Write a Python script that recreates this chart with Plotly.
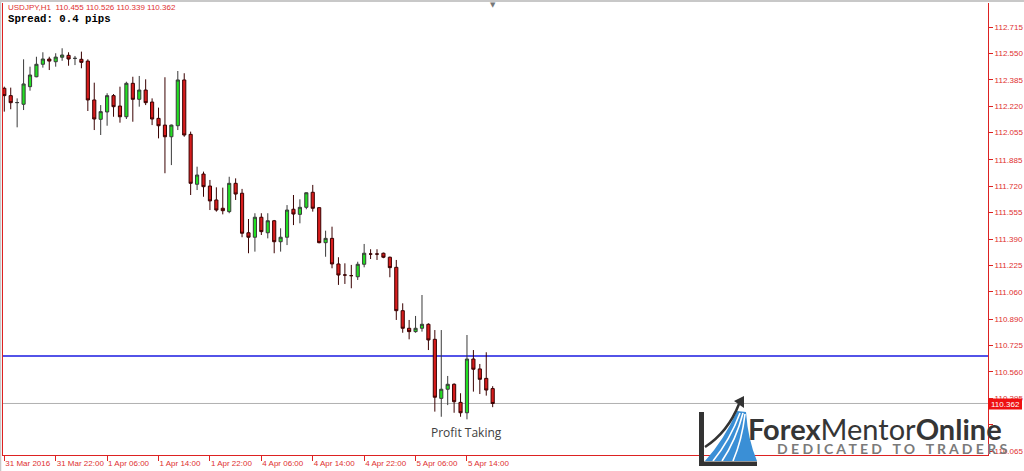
import plotly.graph_objects as go

# ---------------- data (USDJPY H1) ----------------
opens = [112.332, 112.286, 112.242, 112.232, 112.342, 112.404, 112.482, 112.515, 112.498, 112.526,
         112.538, 112.519, 112.513, 112.502, 112.259, 112.138, 112.184, 112.286, 112.221, 112.154,
         112.363, 112.263, 112.321, 112.246, 112.144, 112.102, 112.029, 112.098, 112.384, 112.044,
         111.732, 111.796, 111.721, 111.634, 111.582, 111.561, 111.738, 111.676, 111.429, 111.401,
         111.526, 111.429, 111.504, 111.373, 111.401, 111.576, 111.544, 111.588, 111.682, 111.586,
         111.367, 111.394, 111.234, 111.165, 111.161, 111.154, 111.232, 111.296, 111.296, 111.301,
         111.276, 111.213, 110.942, 110.832, 110.811, 110.832, 110.857, 110.763, 110.394, 110.451,
         110.482, 110.369, 110.304, 110.640, 110.578, 110.519, 110.455]
highs = [112.342, 112.336, 112.269, 112.513, 112.467, 112.529, 112.557, 112.529, 112.551, 112.582,
         112.557, 112.534, 112.561, 112.513, 112.367, 112.227, 112.301, 112.296, 112.342, 112.373,
         112.404, 112.409, 112.388, 112.269, 112.211, 112.401, 112.105, 112.440, 112.426, 112.061,
         111.842, 111.811, 111.759, 111.713, 111.711, 111.779, 111.769, 111.703, 111.515, 111.551,
         111.551, 111.551, 111.509, 111.457, 111.602, 111.665, 111.638, 111.681, 111.728, 111.588,
         111.442, 111.467, 111.276, 111.238, 111.228, 111.248, 111.359, 111.326, 111.326, 111.305,
         111.280, 111.259, 110.988, 110.884, 110.909, 111.040, 110.863, 110.821, 110.821, 110.534,
         110.488, 110.426, 110.790, 110.696, 110.609, 110.682, 110.470]
lows = [112.186, 112.201, 112.088, 112.196, 112.317, 112.401, 112.461, 112.446, 112.467, 112.504,
        112.473, 112.477, 112.457, 112.190, 112.071, 112.040, 112.098, 112.154, 112.117, 112.140,
        112.123, 112.217, 112.227, 112.102, 112.019, 111.801, 111.852, 112.071, 112.029, 111.665,
        111.696, 111.654, 111.571, 111.561, 111.544, 111.551, 111.634, 111.401, 111.301, 111.311,
        111.415, 111.394, 111.301, 111.311, 111.352, 111.477, 111.488, 111.576, 111.561, 111.363,
        111.279, 111.207, 111.103, 111.109, 111.082, 111.134, 111.213, 111.265, 111.259, 111.270,
        111.151, 110.884, 110.804, 110.763, 110.804, 110.811, 110.696, 110.311, 110.279, 110.352,
        110.304, 110.279, 110.263, 110.436, 110.421, 110.411, 110.339]
closes = [112.286, 112.242, 112.243, 112.359, 112.415, 112.482, 112.515, 112.502, 112.527, 112.540,
          112.515, 112.519, 112.494, 112.259, 112.140, 112.186, 112.286, 112.217, 112.154, 112.363,
          112.263, 112.321, 112.242, 112.140, 112.098, 112.029, 112.102, 112.384, 112.040, 111.738,
          111.790, 111.717, 111.628, 111.571, 111.567, 111.738, 111.671, 111.426, 111.401, 111.526,
          111.436, 111.504, 111.373, 111.401, 111.571, 111.546, 111.588, 111.679, 111.582, 111.367,
          111.394, 111.234, 111.165, 111.165, 111.161, 111.232, 111.301, 111.296, 111.296, 111.276,
          111.211, 110.942, 110.832, 110.811, 110.832, 110.857, 110.759, 110.401, 110.451, 110.482,
          110.373, 110.304, 110.640, 110.576, 110.513, 110.446, 110.362]

x_tick_idx = [0, 8, 16, 24, 32, 40, 48, 56, 64, 72]
x_tick_labels = ["31 Mar 2016", "31 Mar 22:00", "1 Apr 06:00", "1 Apr 14:00", "1 Apr 22:00",
                 "4 Apr 06:00", "4 Apr 14:00", "4 Apr 22:00", "5 Apr 06:00", "5 Apr 14:00"]
y_tick_vals = [112.715, 112.550, 112.385, 112.220, 112.055, 111.885, 111.720, 111.555, 111.390,
               111.225, 111.060, 110.890, 110.725, 110.560, 110.395, 110.230, 110.065]
y_tick_labels = ["112.715", "112.550", "112.385", "112.220", "112.055", "111.885", "111.720",
                 "111.555", "111.390", "111.225", "111.060", "110.890", "110.725", "110.560",
                 "110.395", "", "110.065"]
blue_level = 110.659
bid_price = 110.362
header_text = "USDJPY,H1  110.455 110.526 110.339 110.362"
spread_text = "Spread: 0.4 pips"
note_text = "Profit Taking"

W, H = 1024, 471
RED = "#dd2222"


def px(x):
    return x / W


def py(y):
    return 1 - y / H


def P(x, y):
    return f"{px(x):.5f},{py(y):.5f}"


xs = list(range(len(opens)))

fig = go.Figure()
fig.add_trace(go.Candlestick(
    x=xs, open=opens, high=highs, low=lows, close=closes,
    increasing=dict(fillcolor="#22e022", line=dict(color="#3a3a3a", width=1)),
    decreasing=dict(fillcolor="#d81c1c", line=dict(color="#3a0000", width=1)),
    whiskerwidth=0, showlegend=False, hoverinfo="skip",
))

shapes = []
shapes.append(dict(type="line", xref="x domain", yref="y", x0=0, x1=1, y0=blue_level, y1=blue_level,
                   line=dict(color="#1a1ae0", width=1.6), layer="below"))
shapes.append(dict(type="line", xref="x domain", yref="y", x0=0, x1=1, y0=bid_price, y1=bid_price,
                   line=dict(color="#b0b0b0", width=1), layer="below"))
shapes.append(dict(type="line", xref="paper", yref="paper", x0=0, x1=1, y0=py(1), y1=py(1),
                   line=dict(color="#c8c8c8", width=2)))
shapes.append(dict(type="line", xref="paper", yref="paper", x0=px(0.5), x1=px(0.5), y0=0, y1=1,
                   line=dict(color="#c8c8c8", width=1.5)))
# price box
shapes.append(dict(type="rect", xref="paper", yref="paper", x0=px(988), x1=px(1022),
                   y0=py(409.5), y1=py(398.5), fillcolor="#ee1111", line=dict(width=0)))
# logo icon
shapes.append(dict(type="path", xref="paper", yref="paper",
                   path=f"M{P(705,461)} Q{P(724,440)} {P(737,411)} L{P(746,412)} Q{P(748,440)} {P(757,461)} Z",
                   fillcolor="#3a8fd6", line=dict(width=0)))
for (a, b, c) in [((713, 461), (730, 440), (740, 413)), ((722, 461), (736, 440), (743, 413)),
                  ((733, 461), (742, 440), (745, 414))]:
    shapes.append(dict(type="path", xref="paper", yref="paper",
                       path=f"M{P(*a)} Q{P(*b)} {P(*c)}", line=dict(color="white", width=1.6)))
shapes.append(dict(type="path", xref="paper", yref="paper",
                   path=f"M{P(705,447)} Q{P(728,432)} {P(739,404)}", line=dict(color="#333333", width=2.5)))
shapes.append(dict(type="path", xref="paper", yref="paper",
                   path=f"M{P(744,396)} L{P(734,401)} L{P(744,408)} Z",
                   fillcolor="#333333", line=dict(width=0)))
shapes.append(dict(type="rect", xref="paper", yref="paper", x0=px(699), x1=px(704), y0=py(466), y1=py(412),
                   fillcolor="#333333", line=dict(width=0)))
shapes.append(dict(type="rect", xref="paper", yref="paper", x0=px(699), x1=px(757), y0=py(466), y1=py(461.5),
                   fillcolor="#333333", line=dict(width=0)))

tagline = "\u2003".join(" ".join(w) for w in ["DEDICATED", "TO", "TRADERS"])

annotations = [
    dict(text=header_text, xref="paper", yref="paper", x=px(6), y=py(8), xanchor="left", yanchor="middle",
         showarrow=False, font=dict(family="Liberation Sans", size=8, color="#e03030")),
    dict(text="<b>" + spread_text + "</b>", xref="paper", yref="paper", x=px(6), y=py(19.5), xanchor="left",
         yanchor="middle", showarrow=False, font=dict(family="Liberation Mono", size=10.7, color="#000000")),
    dict(text=note_text, xref="paper", yref="paper", x=px(466), y=py(432), xanchor="center", yanchor="middle",
         showarrow=False, font=dict(family="Open Sans", size=12, color="#404040")),
    dict(text="110.362", xref="paper", yref="paper", x=px(1005), y=py(404), xanchor="center", yanchor="middle",
         showarrow=False, font=dict(family="Liberation Sans", size=8, color="#ffffff")),
    dict(text="▼", xref="paper", yref="paper", x=px(493), y=py(5), xanchor="center", yanchor="middle",
         showarrow=False, font=dict(family="DejaVu Sans", size=7, color="#777777")),
    dict(text="<b>Forex</b>Mentor<b>Online</b>", xref="paper", yref="paper", x=px(746), y=py(428),
         xanchor="left", yanchor="middle", showarrow=False,
         font=dict(family="Lato", size=29, color="#353535")),
    dict(text="<b>" + tagline + "</b>", xref="paper", yref="paper", x=px(775), y=py(448),
         xanchor="left", yanchor="middle", showarrow=False,
         font=dict(family="Lato", size=14, color="#7a7a7a")),
]

fig.update_layout(
    template="none",
    width=W, height=H,
    margin=dict(l=0, r=0, t=0, b=0, pad=0, autoexpand=False),
    paper_bgcolor="white", plot_bgcolor="white",
    showlegend=False,
    shapes=shapes,
    annotations=annotations,
    xaxis=dict(
        domain=[px(2.5), px(988)],
        range=[(2.5 - 4.3) / 6.426, (988 - 4.3) / 6.426],
        rangeslider=dict(visible=False),
        automargin=False,
        showgrid=False, zeroline=False,
        showline=True, linecolor=RED, linewidth=1, mirror=False,
        tickmode="array", tickvals=x_tick_idx, ticktext=x_tick_labels,
        ticks="outside", ticklen=5, tickcolor=RED, tickwidth=1,
        tickangle=0,
        ticklabelposition="outside right",
        tickfont=dict(family="Liberation Sans", size=8, color="#e03030"),
        fixedrange=True,
    ),
    yaxis=dict(
        domain=[py(455), py(2.5)],
        range=[112.715 - (455 - 27) / 160, 112.715 - (2.5 - 27) / 160],
        side="right",
        automargin=False,
        showgrid=False, zeroline=False,
        showline=True, linecolor=RED, linewidth=1, mirror=True,
        tickmode="array", tickvals=y_tick_vals, ticktext=y_tick_labels,
        ticks="outside", ticklen=4, tickcolor=RED, tickwidth=1,
        tickfont=dict(family="Liberation Sans", size=8, color="#e03030"),
        fixedrange=True,
    ),
)

fig.write_html("out.html", config={"displayModeBar": False},
               post_script="document.body.style.margin='0';document.body.style.overflow='hidden';")
